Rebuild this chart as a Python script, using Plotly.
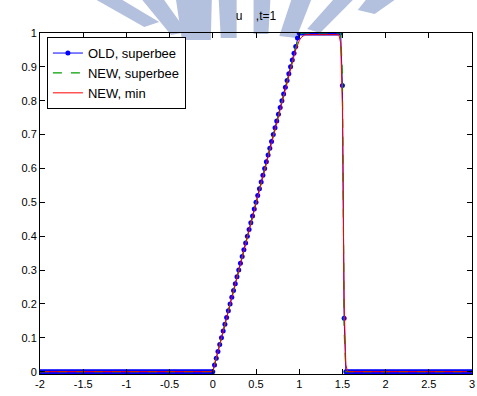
import numpy as np
import plotly.graph_objects as go

# grid nodes (dx = 0.02 on [-2, 3])
x_left = [round(-2 + 0.02 * i, 2) for i in range(100)]          # -2.00 .. -0.02
x_mid = [round(0.02 * i, 2) for i in range(79)]                  # 0.00 .. 1.56
x_right = [round(1.58 + 0.02 * i, 2) for i in range(72)]         # 1.58 .. 3.00

old_superbee_mid = [
    0.00, 0.02, 0.04, 0.06, 0.08, 0.10, 0.12, 0.14, 0.16, 0.18,
    0.20, 0.22, 0.24, 0.26, 0.28, 0.30, 0.32, 0.34, 0.36, 0.38,
    0.40, 0.42, 0.44, 0.46, 0.48, 0.50, 0.52, 0.54, 0.56, 0.58,
    0.60, 0.62, 0.64, 0.66, 0.68, 0.70, 0.72, 0.74, 0.76, 0.78,
    0.80, 0.82, 0.84, 0.86, 0.88, 0.90, 0.92, 0.94, 0.96, 0.985,
    1.00, 1.00, 1.00, 1.00, 1.00, 1.00, 1.00, 1.00, 1.00, 1.00,
    1.00, 1.00, 1.00, 1.00, 1.00, 1.00, 1.00, 1.00, 1.00, 1.00,
    1.00, 1.00, 1.00, 1.00, 1.00, 0.845, 0.158, 0.00, 0.00,
]
new_superbee_mid = [
    0.00, 0.02, 0.04, 0.06, 0.08, 0.10, 0.12, 0.14, 0.16, 0.18,
    0.20, 0.22, 0.24, 0.26, 0.28, 0.30, 0.32, 0.34, 0.36, 0.38,
    0.40, 0.42, 0.44, 0.46, 0.48, 0.50, 0.52, 0.54, 0.56, 0.58,
    0.60, 0.62, 0.64, 0.66, 0.68, 0.70, 0.72, 0.74, 0.76, 0.78,
    0.80, 0.82, 0.84, 0.86, 0.88, 0.90, 0.92, 0.94, 0.955, 0.975,
    0.99, 0.998, 1.00, 1.00, 1.00, 1.00, 1.00, 1.00, 1.00, 1.00,
    1.00, 1.00, 1.00, 1.00, 1.00, 1.00, 1.00, 1.00, 1.00, 1.00,
    1.00, 1.00, 1.00, 1.00, 1.00, 0.88, 0.12, 0.00, 0.00,
]
new_min_mid = [
    0.00, 0.02, 0.04, 0.06, 0.08, 0.10, 0.12, 0.14, 0.16, 0.18,
    0.20, 0.22, 0.24, 0.26, 0.28, 0.30, 0.32, 0.34, 0.36, 0.38,
    0.40, 0.42, 0.44, 0.46, 0.48, 0.50, 0.52, 0.54, 0.56, 0.58,
    0.60, 0.62, 0.64, 0.66, 0.68, 0.70, 0.72, 0.74, 0.76, 0.78,
    0.80, 0.82, 0.84, 0.86, 0.88, 0.90, 0.915, 0.932, 0.95, 0.965,
    0.977, 0.986, 0.991, 0.994, 0.995, 0.995, 0.995, 0.995, 0.995, 0.995,
    0.995, 0.995, 0.995, 0.995, 0.995, 0.995, 0.995, 0.995, 0.995, 0.995,
    0.995, 0.995, 0.995, 0.995, 0.97, 0.78, 0.20, 0.02, 0.00,
]
zeros_left = [0.0] * len(x_left)
zeros_right = [0.0] * len(x_right)

x = x_left + x_mid + x_right
old_superbee = zeros_left + old_superbee_mid + zeros_right
new_superbee = zeros_left + new_superbee_mid + zeros_right
new_min = zeros_left + new_min_mid + zeros_right

x_ticks = [-2, -1.5, -1, -0.5, 0, 0.5, 1, 1.5, 2, 2.5, 3]
x_ticktext = ["-2", "-1.5", "-1", "-0.5", "0", "0.5", "1", "1.5", "2", "2.5", "3"]
y_ticks = [0, 0.1, 0.2, 0.3, 0.4, 0.5, 0.6, 0.7, 0.8, 0.9, 1]
y_ticktext = ["0", "0.1", "0.2", "0.3", "0.4", "0.5", "0.6", "0.7", "0.8", "0.9", "1"]

# page geometry
W, H = 477, 396
L, R, T, B = 40, 2, 33, 22

fig = go.Figure()
fig.add_trace(go.Scatter(x=x, y=old_superbee, mode="lines+markers", name="OLD, superbee",
                         line=dict(color="#0000ff", width=1),
                         marker=dict(color="#0000ff", size=5, symbol="circle")))
fig.add_trace(go.Scatter(x=x, y=new_superbee, mode="lines", name="NEW, superbee",
                         line=dict(color="#00a000", width=1.2, dash="dash")))
fig.add_trace(go.Scatter(x=x, y=new_min, mode="lines", name="NEW, min",
                         line=dict(color="#ff0000", width=1)))

# watermark rays (pixel polygons converted to paper coordinates)
rays = [
    [(97, 0), (123, 0), (160, 22), (145, 27)],
    [(143, 0), (165, 0), (188, 32), (172, 35)],
    [(177, 0), (213, 0), (212, 40), (183, 40)],
    [(220, 0), (238, 0), (238, 38), (222, 38)],
    [(255, 0), (272, 0), (270, 34), (255, 34)],
    [(293, 0), (313, 0), (298, 38), (281, 36)],
    [(335, 0), (355, 0), (322, 33), (309, 29)],
    [(368, 0), (397, 0), (377, 14), (360, 10)],
]
pw, ph = W - L - R, H - T - B
for poly in rays:
    pts = [((px - L) / pw, (H - B - py) / ph) for px, py in poly]
    path = "M " + " L ".join(f"{a:.4f},{b:.4f}" for a, b in pts) + " Z"
    fig.add_shape(type="path", path=path, xref="paper", yref="paper",
                  fillcolor="#b3c1de", line=dict(width=0), layer="below")

axis_common = dict(showgrid=False, zeroline=False, showline=True, linecolor="black",
                   linewidth=1, mirror="ticks", ticks="inside", ticklen=5,
                   tickcolor="black", ticklabeloverflow="allow",
                   tickfont=dict(family="Liberation Sans, Arial", size=11, color="black"))

fig.update_layout(
    width=W, height=H,
    margin=dict(l=L, r=R, t=T, b=B),
    paper_bgcolor="white", plot_bgcolor="rgba(0,0,0,0)",
    title=dict(text="u\u00a0\u00a0\u00a0\u00a0,t=1", x=0.5, xanchor="center", xref="paper",
               y=1 - 16 / H, yanchor="middle",
               font=dict(family="Liberation Sans, Arial", size=12, color="black")),
    xaxis=dict(range=[-2, 3], tickvals=x_ticks, ticktext=x_ticktext, **axis_common),
    yaxis=dict(range=[-0.0068, 1], tickvals=y_ticks, ticktext=y_ticktext, **axis_common),
    legend=dict(x=0.016, y=0.988, xanchor="left", yanchor="top",
                bgcolor="white", bordercolor="black", borderwidth=1,
                font=dict(family="Liberation Sans, Arial", size=13, color="black"),
                tracegroupgap=0),
    showlegend=True,
)

fig.write_html("out.html")
